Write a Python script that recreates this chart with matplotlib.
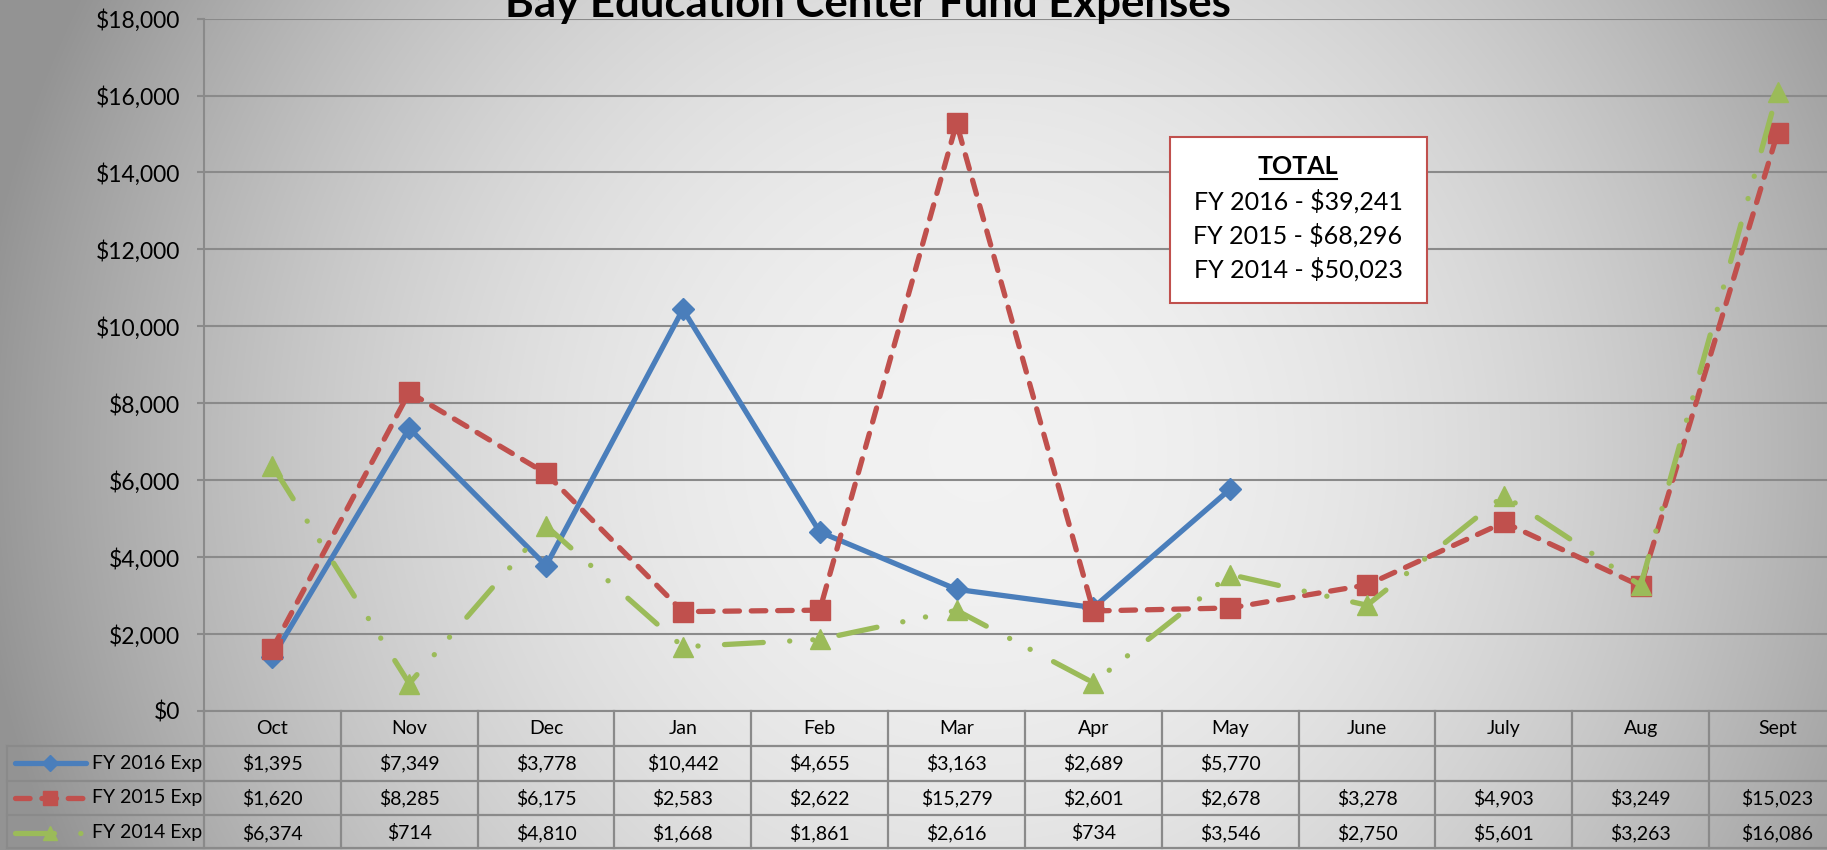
import numpy as np
import matplotlib
matplotlib.use("Agg")
import matplotlib.pyplot as plt
from matplotlib.patches import Rectangle
from matplotlib.lines import Line2D

# Data
months = ["Oct", "Nov", "Dec", "Jan", "Feb", "Mar", "Apr", "May", "June", "July", "Aug", "Sept"]
fy2016 = [1395, 7349, 3778, 10442, 4655, 3163, 2689, 5770, None, None, None, None]
fy2015 = [1620, 8285, 6175, 2583, 2622, 15279, 2601, 2678, 3278, 4903, 3249, 15023]
fy2014 = [6374, 714, 4810, 1668, 1861, 2616, 734, 3546, 2750, 5601, 3263, 16086]
series_names = ["FY 2016 Exp", "FY 2015 Exp", "FY 2014 Exp"]
totals = ["FY 2016 - $39,241", "FY 2015 - $68,296", "FY 2014 - $50,023"]
yticks = list(range(0, 18001, 2000))
title = "Bay Education Center Fund Expenses"

plt.rcParams["font.family"] = ["Lato", "DejaVu Sans"]
plt.rcParams["lines.scale_dashes"] = False

blue, red, green = "#4a7ebb", "#c0504d", "#9bbb59"
gridc = "#8a8a8a"
lw = 3.8
styles = [
    dict(color=blue, ls="-", marker="D", ms=11.5),
    dict(color=red, ls=(0, (10.5, 8.5)), marker="s", ms=15),
    dict(color=green, ls=(0, (28, 19, 0.1, 16.6, 0.1, 19)), marker="^", ms=15),
]

W, H = 1827, 850
fig = plt.figure(figsize=(W / 100, H / 100), dpi=100)

# Background gradient
bg = fig.add_axes([0, 0, 1, 1], zorder=-10)
yy, xx = np.mgrid[0:H, 0:W]
r = np.hypot(xx - 980, yy - 450) / 950
g = np.clip(0.95 - 0.33 * r ** 2, 0.58, 1)
bg.imshow(np.dstack([g, g, g]), aspect="auto", interpolation="bilinear")
bg.axis("off")

# Main plot area
px_left = 204
colw = 136.83
px_right = px_left + 12 * colw
y0_px, ytop_px = 711, 18.6
ax = fig.add_axes([px_left / W, 1 - y0_px / H, (px_right - px_left) / W, (y0_px - ytop_px) / H])
ax.set_facecolor("none")
ax.set_xlim(-0.5, 11.5)
ax.set_ylim(0, 18000)

x = np.arange(len(months))
for vals, st, z in zip([fy2016, fy2015, fy2014], styles, [3, 4, 5]):
    ax.plot(x, np.array(vals, dtype=float), color=st["color"], ls=st["ls"], lw=lw,
            marker=st["marker"], ms=st["ms"], mec=st["color"],
            dash_capstyle="round", solid_capstyle="round", zorder=z, clip_on=False)

ax.set_yticks(yticks)
ax.set_yticklabels([f"${v:,}" for v in yticks])
ax.set_xticks([])
ax.tick_params(axis="y", length=5, width=1.5, color=gridc, labelsize=16.5, pad=12)
ax.grid(axis="y", color=gridc, lw=1.5)
ax.set_axisbelow(True)
for s in ["top", "right"]:
    ax.spines[s].set_visible(False)
for s in ["left", "bottom"]:
    ax.spines[s].set_color(gridc)
    ax.spines[s].set_linewidth(1.5)

# Data table under the plot
tab = fig.add_axes([0, 0, px_right / W, (H - y0_px) / H])
tab.set_xlim(-0.5 - px_left / colw, 11.5)
tab.set_ylim(4, 0)
tab.axis("off")

def px2x(p):
    return -0.5 + (p - px_left) / colw

leg_left = px2x(7)
bottom_row = 3.94
for yv in [1, 2, 3, bottom_row]:
    tab.plot([leg_left, 11.5], [yv, yv], color=gridc, lw=1.6, clip_on=False)
for k in range(13):
    tab.plot([k - 0.5, k - 0.5], [0, bottom_row], color=gridc, lw=1.6, clip_on=False)
tab.plot([leg_left, leg_left], [1, bottom_row], color=gridc, lw=1.6, clip_on=False)

fs = 14
for i, m in enumerate(months):
    tab.text(i, 0.5, m, ha="center", va="center", fontsize=fs)
for row, vals in enumerate([fy2016, fy2015, fy2014], start=1):
    for i, v in enumerate(vals):
        if v is not None:
            tab.text(i, row + 0.5, f"${v:,}", ha="center", va="center", fontsize=fs)

# legend keys in the table
for row, (name, st) in enumerate(zip(series_names, styles), start=1):
    kx = [px2x(15), px2x(50), px2x(86)]
    tab.plot(kx, [row + 0.5] * 3, color=st["color"], ls=st["ls"], lw=lw,
             marker=st["marker"], ms=st["ms"] * 0.7, markevery=[1],
             dash_capstyle="round", solid_capstyle="round", clip_on=False)
    tab.text(px2x(92), row + 0.5, name, ha="left", va="center", fontsize=fs)

# Title
t = fig.text(868 / W, 1 - 17 / H, title, ha="center", va="baseline",
             fontsize=28, weight="bold", zorder=6)
fig.canvas.draw()
wpx = t.get_window_extent().width
t.set_fontsize(28 * 726 / wpx)

# TOTAL box
fig.add_artist(Rectangle((1170 / W, 1 - 303 / H), 257 / W, 166 / H, transform=fig.transFigure,
                         facecolor="white", edgecolor=red, lw=1.5, zorder=6))
cx = 1298 / W
fig.text(cx, 1 - 174 / H, "TOTAL", ha="center", va="baseline", fontsize=18,
         weight="bold", zorder=7)
fig.add_artist(Line2D([1260 / W, 1337 / W], [1 - 179 / H, 1 - 179 / H],
                      transform=fig.transFigure, color="black", lw=1.5, zorder=7))
for k, line in enumerate(totals):
    fig.text(cx, 1 - (210 + 34 * k) / H, line, ha="center", va="baseline",
             fontsize=18, zorder=7)

fig.savefig("out.png", dpi=100)
